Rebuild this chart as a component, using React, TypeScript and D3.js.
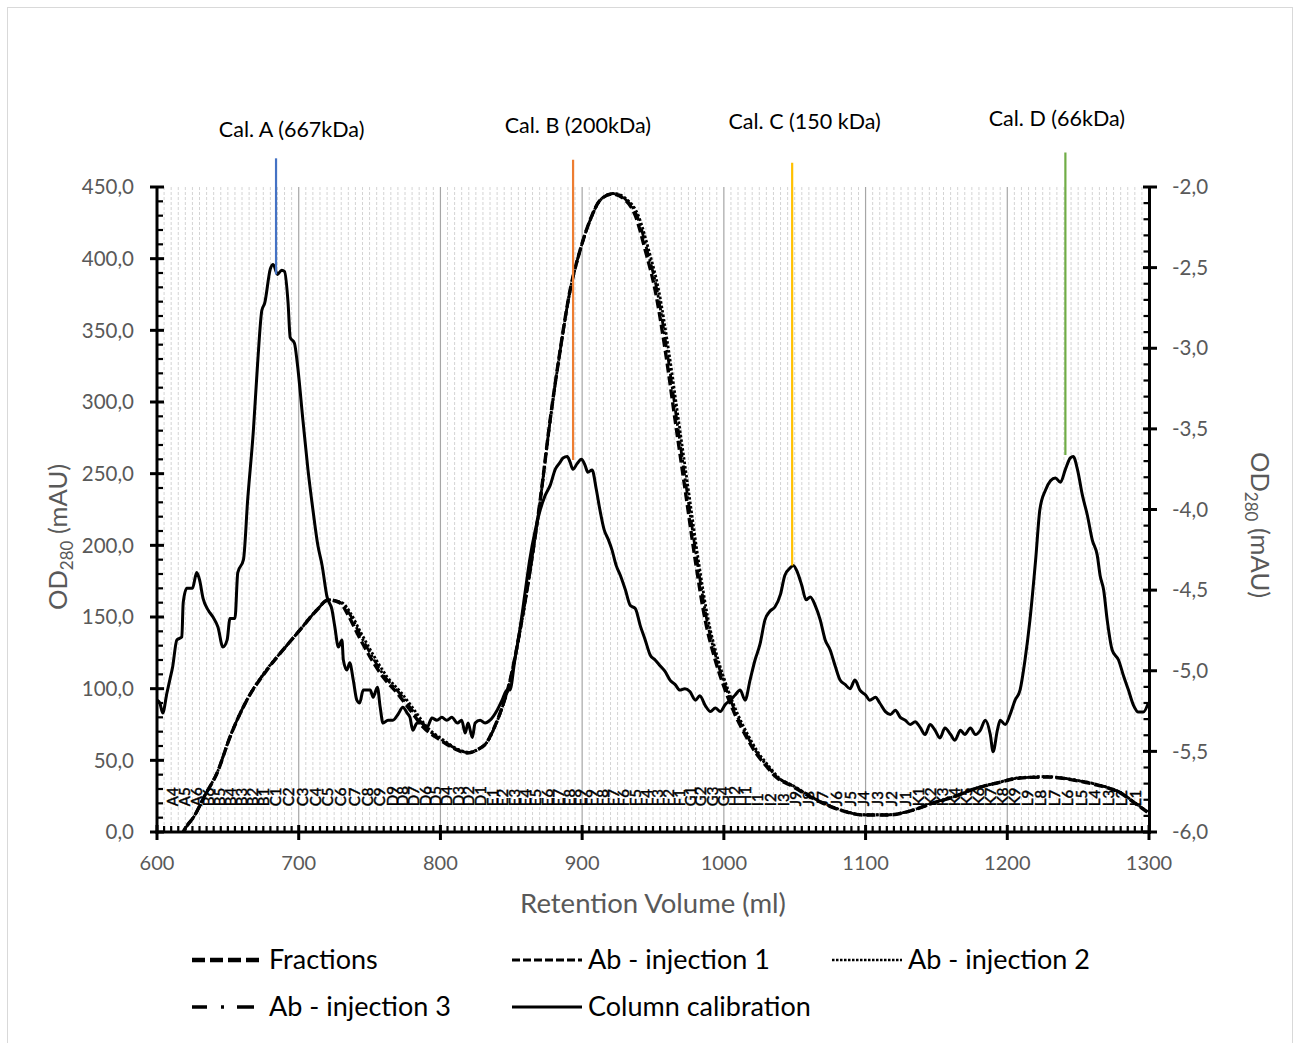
import React from 'react';
import * as d3 from 'd3';

// ---------- DATA ----------
const xTicks = [600, 700, 800, 900, 1000, 1100, 1200, 1300];
const leftTicks = [0, 50, 100, 150, 200, 250, 300, 350, 400, 450];
const rightTicks = [-6, -5.5, -5, -4.5, -4, -3.5, -3, -2.5, -2];

// Column calibration (left axis, mAU) [ml, value]
const calibration: [number, number][] = [
  [600, 92], [602, 90], [604, 83], [607, 97], [609, 106], [611, 115], [614, 134], [617.5, 136], [618.5, 160],
  [621, 170], [625, 170], [628, 181], [630, 176], [632.5, 163], [636, 155], [639.5, 150], [643, 143], [646.5, 129],
  [649.5, 134], [651.5, 149], [655, 149], [657, 181], [661, 190], [664, 232], [668, 280], [671, 327], [674, 364],
  [676, 369], [680, 393], [682, 396], [685, 389], [688, 392], [690, 391], [692.5, 369], [694, 345], [697, 341],
  [699, 327], [703, 287], [706.5, 253], [710, 225], [713.5, 200], [716.5, 186], [720, 164], [723.5, 155],
  [725.5, 143], [728, 129], [730.5, 134], [731.5, 120], [734, 113], [736, 118], [738.5, 106], [741, 92], [743, 90],
  [745.5, 99], [750.5, 99], [752.5, 94], [755.5, 101], [757.5, 87], [759.5, 76], [763, 78], [766.5, 78], [770, 82],
  [773.5, 87], [776.5, 83], [778.5, 80], [780.5, 71], [783.5, 76], [787, 76], [790.5, 73], [794, 79.5], [797.5, 78],
  [801, 80], [804.5, 78], [808, 80], [812, 76], [815, 78], [817.5, 69], [819.5, 76], [822.5, 66], [824.5, 76],
  [828, 78], [831.5, 76], [835, 78], [840, 85], [843.5, 92], [847, 99], [849, 99], [852.5, 120], [856, 141],
  [860, 169], [863, 190], [867, 211], [870.5, 225], [874, 235], [877.5, 242], [881, 253], [884.5, 258],
  [886.5, 261], [889.5, 262], [891.5, 258], [893.5, 253], [896.5, 257], [899.5, 260], [902, 256], [904, 251],
  [907, 252.6], [910, 239], [912.5, 225], [915.5, 211], [918.5, 204], [921, 197], [924, 186], [927, 179],
  [930.5, 169], [934, 158], [937.5, 156], [941, 144], [944.5, 134], [948, 123.5], [951.5, 120], [955, 116],
  [958.5, 112], [962, 106], [965.5, 103], [969, 99], [972.5, 100], [976, 98], [980, 92], [983, 95], [987, 88],
  [990.5, 84], [994, 86.5], [997.5, 84], [1001, 89], [1004.5, 92], [1008, 95.6], [1011.5, 99], [1015, 92],
  [1018.5, 106], [1022, 120], [1025.5, 131], [1029, 148], [1032.5, 154], [1036, 157], [1040, 166], [1043, 179],
  [1047, 184.5], [1049, 186], [1052, 181], [1055, 172], [1058, 162], [1061, 164], [1064.5, 158], [1068, 148],
  [1071.5, 134], [1075, 127], [1078.5, 116], [1082, 106], [1085.5, 103], [1089, 100], [1092.5, 106], [1096, 99],
  [1100, 95.6], [1103, 92], [1107, 94], [1110, 90], [1114, 84], [1117.5, 82], [1121, 85], [1124.5, 80], [1128, 78],
  [1131.5, 75], [1135, 77], [1138.5, 73], [1142, 68], [1145.5, 75], [1149, 71], [1152.5, 65.6], [1156, 72.5],
  [1160, 68], [1163, 64], [1167, 71], [1170, 68], [1174, 72.5], [1177.5, 68], [1181, 71], [1184.5, 78], [1188, 68],
  [1190, 56], [1193, 71], [1195, 78], [1198.5, 75], [1202, 82], [1205.5, 92], [1209, 99], [1212.5, 120],
  [1216, 148], [1220, 189.8], [1223, 225], [1227, 238.6], [1230.5, 245], [1234, 247], [1237.5, 244], [1241, 253],
  [1244.5, 261], [1246.5, 262], [1249.5, 253], [1253, 235], [1256.5, 221], [1260, 203.7], [1263.5, 193],
  [1265.5, 179], [1268, 168.8], [1270.5, 147.9], [1274, 127], [1278.5, 120], [1282, 109], [1285.5, 99],
  [1289, 88.6], [1292.5, 83.7], [1296, 83.7], [1299.5, 90],
];

// Ab injections (right axis, mAU) [ml, value]
const abInjection1: [number, number][] = [
  [600, -6.4], [610, -6.2], [618.4, -6.0], [626.8, -5.894], [633.9, -5.771], [642.4, -5.634], [651.5, -5.411],
  [663.5, -5.181], [677.6, -4.995], [688.9, -4.871], [700.9, -4.747], [712.9, -4.623], [720.7, -4.561],
  [729.2, -4.58], [734.1, -4.642], [741.2, -4.766], [750.4, -4.915], [759.5, -5.039], [769.4, -5.138],
  [778.6, -5.243], [787.8, -5.349], [799.8, -5.429], [811.8, -5.491], [818.8, -5.51], [825.9, -5.491],
  [832.9, -5.442], [837.2, -5.367], [842.1, -5.262], [849.2, -5.057], [856.2, -4.747], [863.3, -4.375],
  [870.4, -3.941], [877.4, -3.445], [884.5, -3.011], [891.5, -2.639], [898.6, -2.391], [905.6, -2.205],
  [912.7, -2.081], [921.2, -2.043], [930.4, -2.081], [937.4, -2.174], [944.5, -2.391], [951.5, -2.639],
  [958.6, -3.011], [965.6, -3.445], [972.7, -3.879], [979.8, -4.313], [986.8, -4.685], [993.9, -4.933],
  [1000.9, -5.119], [1008, -5.274], [1015.1, -5.398], [1022.1, -5.504], [1029.2, -5.584], [1037.6, -5.665],
  [1046.8, -5.709], [1058.8, -5.771], [1068, -5.814], [1082.1, -5.864], [1098.4, -5.895], [1115.3, -5.895],
  [1133.6, -5.864], [1147.8, -5.82], [1161.9, -5.783], [1178.8, -5.727], [1192.9, -5.696], [1209.2, -5.665],
  [1228.2, -5.659], [1246.6, -5.678], [1263.5, -5.709], [1279.8, -5.758], [1291.8, -5.833], [1298.8, -5.876],
];
const abInjection2: [number, number][] = [
  [600, -6.4], [610, -6.2], [618.8, -6.0], [627, -5.89], [634, -5.77], [642.5, -5.63], [651.5, -5.41],
  [663.5, -5.18], [677.6, -4.99], [689, -4.87], [701, -4.745], [713, -4.62], [721.5, -4.56], [731, -4.58],
  [736.5, -4.642], [744, -4.766], [753.5, -4.915], [762.5, -5.039], [772.5, -5.138], [781.5, -5.243],
  [790.5, -5.349], [802, -5.429], [813.5, -5.491], [820.5, -5.505], [827, -5.485], [833.5, -5.435],
  [837.8, -5.36], [842.5, -5.255], [849.5, -5.05], [856.5, -4.74], [863.5, -4.37], [870.6, -3.935],
  [877.6, -3.44], [884.7, -3.005], [891.7, -2.635], [898.8, -2.385], [906, -2.2], [913.5, -2.075],
  [922.5, -2.04], [932, -2.08], [939.5, -2.174], [947, -2.391], [954, -2.639], [961, -3.011], [968, -3.445],
  [975, -3.879], [982, -4.313], [989, -4.685], [996, -4.933], [1003, -5.119], [1010, -5.274], [1017, -5.398],
  [1024, -5.504], [1031, -5.584], [1039, -5.665], [1048, -5.709], [1060, -5.771], [1069, -5.814],
  [1083, -5.864], [1099, -5.893], [1116, -5.893], [1134, -5.862], [1148, -5.818], [1162, -5.781],
  [1179, -5.725], [1193, -5.694], [1209, -5.663], [1228, -5.657], [1247, -5.676], [1264, -5.707],
  [1280, -5.756], [1292, -5.831], [1299, -5.874],
];
const abInjection3: [number, number][] = [
  [600, -6.4], [610, -6.2], [618.6, -6.0], [627, -5.892], [634, -5.77], [642.5, -5.632], [651.5, -5.41],
  [663.5, -5.18], [677.6, -4.993], [689, -4.87], [701, -4.746], [713, -4.622], [721, -4.56], [730, -4.58],
  [735.5, -4.642], [742.8, -4.766], [752, -4.915], [761, -5.039], [771, -5.138], [780, -5.243],
  [789.2, -5.349], [801, -5.429], [812.8, -5.491], [819.8, -5.508], [826.5, -5.488], [833.2, -5.44],
  [837.5, -5.364], [842.3, -5.26], [849.3, -5.054], [856.3, -4.744], [863.4, -4.372], [870.5, -3.938],
  [877.5, -3.442], [884.6, -3.008], [891.6, -2.637], [898.7, -2.388], [905.8, -2.202], [913, -2.078],
  [921.8, -2.041], [931, -2.08], [938.5, -2.174], [945.8, -2.391], [952.8, -2.639], [959.8, -3.011],
  [966.8, -3.445], [973.8, -3.879], [981, -4.313], [988, -4.685], [995, -4.933], [1002, -5.119],
  [1009, -5.274], [1016, -5.398], [1023, -5.504], [1030, -5.584], [1038.3, -5.665], [1047.5, -5.709],
  [1059.5, -5.771], [1068.5, -5.814], [1082.5, -5.864], [1098.7, -5.894], [1115.6, -5.894], [1133.8, -5.863],
  [1148, -5.819], [1162, -5.782], [1179, -5.726], [1193, -5.695], [1209, -5.664], [1228, -5.658],
  [1247, -5.677], [1264, -5.708], [1280, -5.757], [1292, -5.832], [1299, -5.875],
];

// Fractions
const fractionLabels = [
  'A4', 'A5', 'A6', 'B6', 'B5', 'B4', 'B3', 'B2', 'B1',
  'C1', 'C2', 'C3', 'C4', 'C5', 'C6', 'C7', 'C8', 'C9',
  'D9', 'D8', 'D7', 'D6', 'D5', 'D4', 'D3', 'D2', 'D1',
  'E1', 'E2', 'E3', 'E4', 'E5', 'E6', 'E7', 'E8', 'E9',
  'F9', 'F8', 'F7', 'F6', 'F5', 'F4', 'F3', 'F2', 'F1',
  'G1', 'G2', 'G3', 'G4', 'H2', 'H1', 'I1', 'I2', 'I3',
  'J9', 'J8', 'J7', 'J6', 'J5', 'J4', 'J3', 'J2', 'J1',
  'K1', 'K2', 'K3', 'K4', 'K5', 'K6', 'K7', 'K8', 'K9',
  'L9', 'L8', 'L7', 'L6', 'L5', 'L4', 'L3', 'L2', 'L1',
];
const fractionVolumes = [
  611.3, 619.8, 628.2, 636.7, 644.5, 652.2, 660.0, 667.8, 675.5,
  684.0, 693.2, 702.4, 711.6, 720.7, 729.9, 739.1, 748.3, 757.4,
  765.9, 773.6, 781.4, 789.2, 796.9, 804.7, 812.5, 820.2, 828.0,
  836.5, 844.2, 852.0, 859.8, 867.5, 875.3, 883.1, 890.8, 898.6,
  906.4, 914.1, 921.9, 929.6, 937.4, 945.2, 952.9, 960.7, 968.5,
  976.2, 983.9, 991.7, 999.5, 1007.3, 1015.1, 1023.5, 1032.7, 1041.9,
  1050.4, 1060.1, 1069.8, 1079.5, 1089.2, 1098.9, 1108.6, 1118.3, 1128.0,
  1137.2, 1145.6, 1154.1, 1162.6, 1171.1, 1179.5, 1188.0, 1196.5, 1205.0,
  1214.1, 1223.7, 1233.2, 1242.7, 1252.2, 1261.8, 1271.3, 1280.8, 1290.4,
];
const fractionLevel = 18;

// Calibration standards
const standardNames = ['Cal. A (667kDa)', 'Cal. B (200kDa)', 'Cal. C (150 kDa)', 'Cal. D (66kDa)'];
const standardVolumes = [684, 893.6, 1048.2, 1241];
const standardPeaks = [389, 259.5, 186, 263];
const standardTops = [470, 469, 467, 474];
const standardLabelVolumes = [695, 897, 1057, 1235];
const standardLabelLevels = [485, 487.7, 490.5, 492.6];

const legendNames = ['Fractions', 'Ab - injection 1', 'Ab - injection 2', 'Ab - injection 3', 'Column calibration'];

// ---------- STYLE ----------
const FONT = "Lato, 'Open Sans', sans-serif";
const AXIS_GRAY = '#595959';
const markerColors = ['#4472C4', '#ED7D31', '#FFC000', '#70AD47'];

export default function App() {
  const x = d3.scaleLinear().domain([600, 1300]).range([157, 1149]);
  const yL = d3.scaleLinear().domain([0, 450]).range([832, 187]);
  const yR = d3.scaleLinear().domain([-6, -2]).range([832, 187]);

  const lineL = d3.line<[number, number]>().x(d => x(d[0])).y(d => yL(d[1])).curve(d3.curveMonotoneX);
  const lineR = d3.line<[number, number]>().x(d => x(d[0])).y(d => yR(d[1])).curve(d3.curveMonotoneX);

  const minorX = d3.range(605, 1300, 5).filter(v => v % 100 !== 0);
  const minorL = d3.range(0, 451, 10).filter(v => v % 50 !== 0);
  const minorR = d3.range(-6, -1.99, 0.1).filter(v => Math.abs(Math.round(v * 2) - v * 2) > 0.01);

  const fmt = (v: number) => v.toFixed(1).replace('.', ',');

  const series = [
    { d: abInjection1, dash: '9,4', w: 3.4 },
    { d: abInjection2, dash: '2.5,2', w: 2.8 },
    { d: abInjection3, dash: '10,3,2.5,3', w: 2.8 },
  ];

  const legendItems = [
    { name: legendNames[0], x: 192, y: 960, dash: '13,5', w: 4.5, len: 72, textX: 269 },
    { name: legendNames[1], x: 512, y: 960, dash: '8,3', w: 3, len: 70, textX: 588 },
    { name: legendNames[2], x: 832, y: 960, dash: '2.5,1.5', w: 2.5, len: 70, textX: 908 },
    { name: legendNames[3], x: 192, y: 1007, dash: '15,14,3,13,17,20', w: 3.5, len: 62, textX: 269 },
    { name: legendNames[4], x: 512, y: 1007, dash: '', w: 3, len: 70, textX: 588 },
  ];

  return (
    <svg width={1300} height={1043} style={{ position: 'absolute', left: 0, top: 0, background: '#fff' }}
      fontFamily={FONT}>
      <defs>
        <clipPath id="plotClip">
          <rect x={157} y={150} width={992} height={682} />
        </clipPath>
      </defs>
      <rect x={0} y={0} width={1300} height={1043} fill="#fff" />
      <rect x={7.5} y={7.5} width={1285} height={1100} fill="none" stroke="#d9d9d9" strokeWidth={1} />

      {/* minor gridlines */}
      {minorX.map(v => (
        <line key={'mg' + v} x1={x(v)} x2={x(v)} y1={187} y2={832} stroke="#d4d4d4" strokeWidth={1}
          strokeDasharray="3,2" />
      ))}
      {/* major gridlines */}
      {xTicks.slice(1, -1).map(v => (
        <line key={'Mg' + v} x1={x(v)} x2={x(v)} y1={187} y2={832} stroke="#a6a6a6" strokeWidth={1.2} />
      ))}

      {/* fraction labels */}
      {fractionLabels.map((lab, i) => {
        const px = x(fractionVolumes[i]);
        const py = yL(fractionLevel);
        return (
          <text key={'f' + i} transform={`translate(${px},${py}) rotate(-90)`} dy="0.36em" fontSize={15}
            fill="#000" stroke="#000" strokeWidth={0.45}>{lab}</text>
        );
      })}

      {/* Ab curves */}
      <g clipPath="url(#plotClip)">
        {series.map((s, i) => (
          <path key={'s' + i} d={lineR(s.d) || ''} fill="none" stroke="#000" strokeWidth={s.w}
            strokeDasharray={s.dash} />
        ))}
        <path d={lineL(calibration) || ''} fill="none" stroke="#000" strokeWidth={3} strokeLinejoin="round" />
      </g>

      {/* standard markers */}
      {standardNames.map((n, i) => (
        <g key={'std' + i}>
          <line x1={x(standardVolumes[i])} x2={x(standardVolumes[i])} y1={yL(standardTops[i])}
            y2={yL(standardPeaks[i])} stroke={markerColors[i]} strokeWidth={2.2} />
          <text x={x(standardLabelVolumes[i])} y={yL(standardLabelLevels[i])} textAnchor="middle" fontSize={21.5}
            fill="#000">{n}</text>
        </g>
      ))}

      {/* axes */}
      <line x1={157} x2={157} y1={186} y2={833.5} stroke="#000" strokeWidth={3} />
      <line x1={1149.5} x2={1149.5} y1={186} y2={833.5} stroke="#000" strokeWidth={3} />
      <line x1={155.5} x2={1151} y1={832} y2={832} stroke="#000" strokeWidth={3} />

      {minorL.map(v => (
        <line key={'ml' + v} x1={157} x2={163} y1={yL(v)} y2={yL(v)} stroke="#000" strokeWidth={2.2} />
      ))}
      {leftTicks.map(v => (
        <g key={'lt' + v}>
          <line x1={150} x2={164} y1={yL(v)} y2={yL(v)} stroke="#000" strokeWidth={3} />
          <text x={134} y={yL(v)} dy="0.35em" textAnchor="end" fontSize={20.5} fill={AXIS_GRAY}>{fmt(v)}</text>
        </g>
      ))}
      {minorR.map((v, i) => (
        <line key={'mr' + i} x1={1143.5} x2={1149.5} y1={yR(v)} y2={yR(v)} stroke="#000" strokeWidth={2.2} />
      ))}
      {rightTicks.map(v => (
        <g key={'rt' + v}>
          <line x1={1143} x2={1157} y1={yR(v)} y2={yR(v)} stroke="#000" strokeWidth={3} />
          <text x={1172} y={yR(v)} dy="0.35em" textAnchor="start" fontSize={20.5} fill={AXIS_GRAY}>{fmt(v)}</text>
        </g>
      ))}
      {minorX.map(v => (
        <line key={'mx' + v} x1={x(v)} x2={x(v)} y1={826} y2={832} stroke="#000" strokeWidth={2.2} />
      ))}
      {xTicks.map(v => (
        <g key={'xt' + v}>
          <line x1={x(v)} x2={x(v)} y1={825} y2={840} stroke="#000" strokeWidth={3} />
          <text x={x(v)} y={870} textAnchor="middle" fontSize={20} fill={AXIS_GRAY}>{v}</text>
        </g>
      ))}

      {/* axis titles */}
      <text transform="translate(67,537) rotate(-90)" textAnchor="middle" fontSize={25.5} fill={AXIS_GRAY}>
        OD<tspan fontSize={17} dy={6}>280</tspan><tspan dy={-6}> (mAU)</tspan>
      </text>
      <text transform="translate(1251,525) rotate(90)" textAnchor="middle" fontSize={25.5} fill={AXIS_GRAY}>
        OD<tspan fontSize={17} dy={6}>280</tspan><tspan dy={-6}> (mAU)</tspan>
      </text>
      <text x={653} y={913} textAnchor="middle" fontSize={27.5} fill={AXIS_GRAY}>Retention Volume (ml)</text>

      {/* legend */}
      {legendItems.map((it, i) => (
        <g key={'lg' + i}>
          <line x1={it.x} x2={it.x + it.len} y1={it.y} y2={it.y} stroke="#000" strokeWidth={it.w}
            strokeDasharray={it.dash || undefined} />
          <text x={it.textX} y={it.y} dy="0.35em" fontSize={27} fill="#000">{it.name}</text>
        </g>
      ))}
    </svg>
  );
}
